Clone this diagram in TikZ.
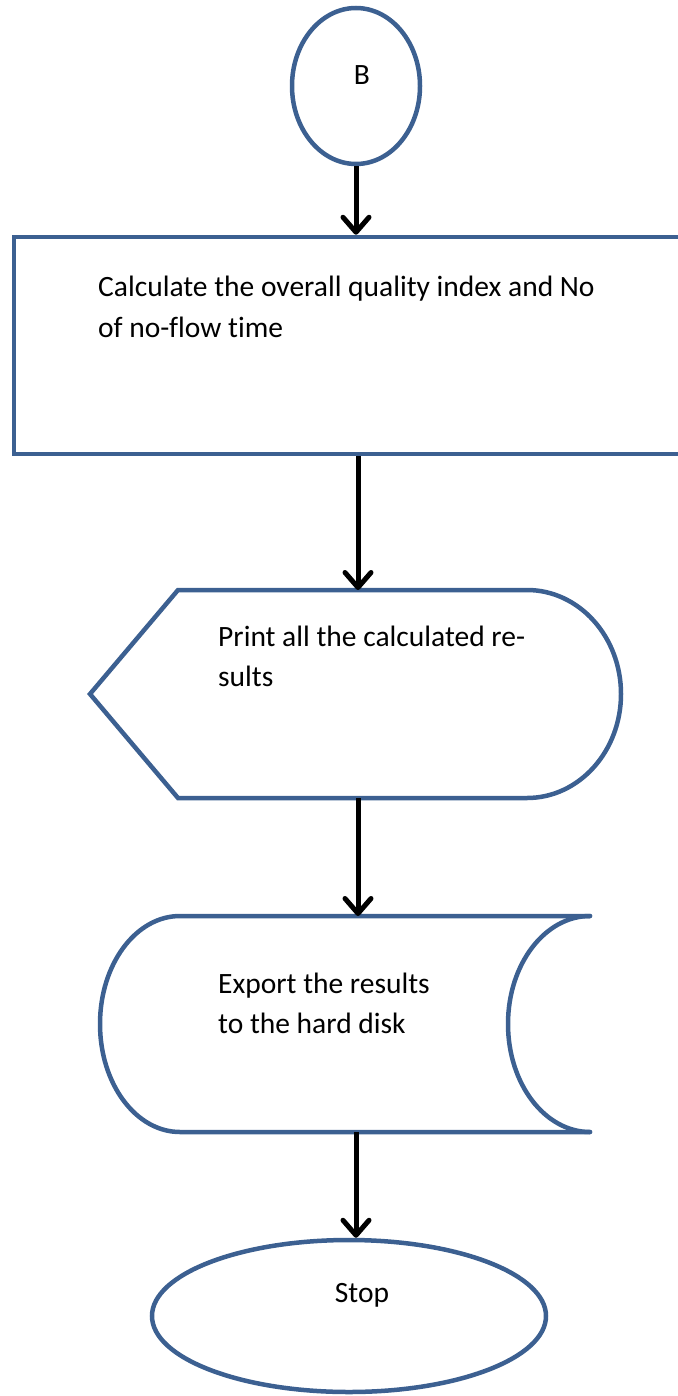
\documentclass[tikz,border=0pt]{standalone}
\usepackage{fontspec}
\setmainfont{Carlito}[Ligatures=NoCommon]
\usetikzlibrary{arrows.meta,shapes.geometric}
\definecolor{flowblue}{RGB}{60,96,145}
\begin{document}
\begin{tikzpicture}[x=1pt,y=-1pt,
  outline/.style={draw=flowblue,line width=4.5pt},
  flow/.style={draw=black,line width=5pt,-{Straight Barb[length=15pt,width=26pt,line width=5pt,round]}},
  txt/.style={font=\fontsize{29.5}{40}\selectfont,inner sep=0pt},
  lbl/.style={txt,align=left,anchor=base west}]
\useasboundingbox (0,0) rectangle (677,1396);
% start connector
\node[outline,ellipse,minimum width=128pt,minimum height=156pt,inner sep=0pt] (b) at (356,86) {};
\node[txt,anchor=base] (bt) at (362,85) {B};
% process box (runs off the right edge)
\node[outline,rectangle,minimum width=700pt,minimum height=217pt,inner sep=0pt] (calc) at (364,345.5) {};
\node[lbl] (calct) at (98,337) {Calculate the overall quality index and No\\of no-flow time};
% display shape
\draw[outline] (178,590) -- (527,590)
  .. controls (579,590) and (621,636.6) .. (621,694)
  .. controls (621,751.4) and (579,798) .. (527,798)
  -- (178,798) -- (90,694) -- cycle;
\coordinate (prt-n) at (358,590);
\coordinate (prt-s) at (358,798);
\node[lbl] (prtt) at (218,686) {Print all the calculated re-\\sults};
% stored data shape
\draw[outline,line cap=round] (590,916) -- (180,916)
  .. controls (136,916) and (100,964) .. (100,1024)
  .. controls (100,1084) and (136,1132) .. (180,1132)
  -- (590,1132);
\draw[outline,line cap=round] (590,916)
  .. controls (545,916) and (508,964) .. (508,1024)
  .. controls (508,1084) and (545,1132) .. (590,1132);
\coordinate (exp-n) at (358,916);
\coordinate (exp-s) at (356,1132);
\node[lbl] (expt) at (218,1033) {Export the results\\to the hard disk};
% terminator
\node[outline,ellipse,minimum width=394pt,minimum height=152pt,inner sep=0pt] (stop) at (349,1316) {};
\node[txt,anchor=base] (stopt) at (362,1302) {Stop};
% connectors
\draw[flow] (b.south) -- (b.south |- calc.north);
\draw[flow] (calc.south -| prt-n) -- (prt-n);
\draw[flow] (prt-s) -- (exp-n);
\draw[flow] (exp-s) -- (exp-s |- stop.north);
\end{tikzpicture}
\end{document}
